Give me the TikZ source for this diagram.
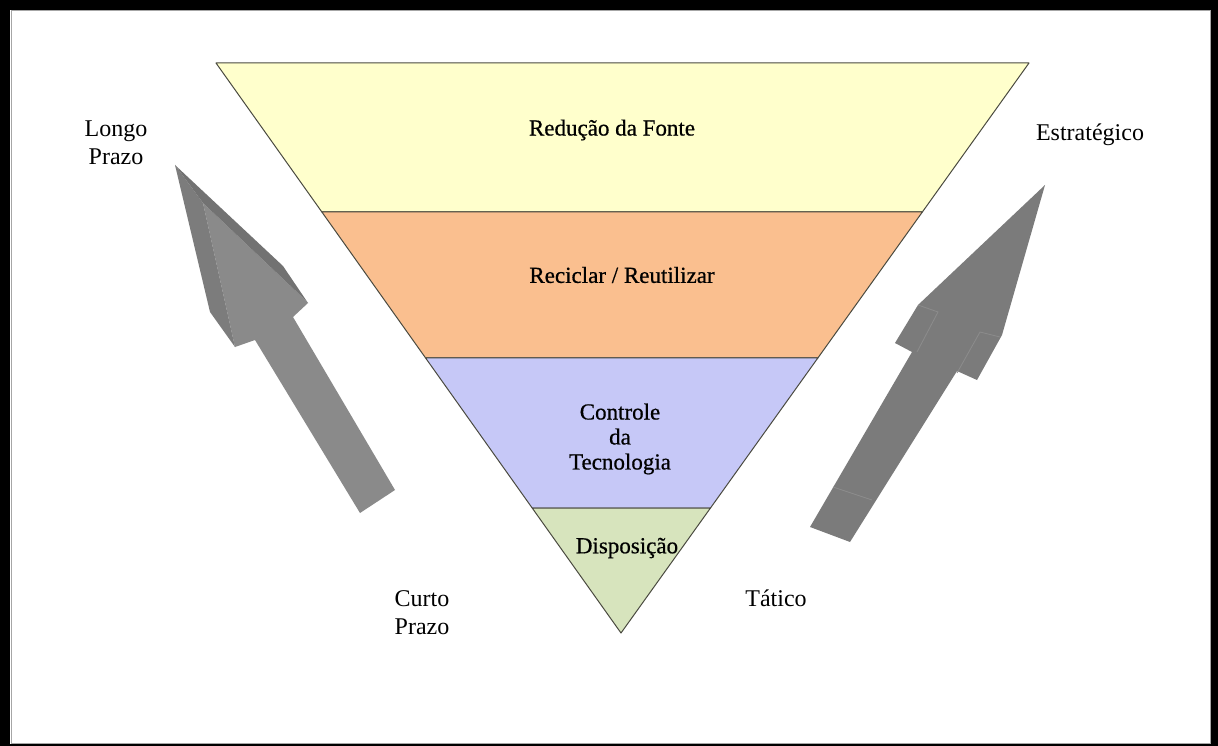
\documentclass[tikz,border=0pt]{standalone}
\usepackage{fontspec}
\setmainfont{Liberation Serif}
\newfontfamily\semibf[FakeBold=0.6]{Liberation Serif}
\usetikzlibrary{calc}
\definecolor{yel}{HTML}{FFFFCC}
\definecolor{ora}{HTML}{FABF8F}
\definecolor{blu}{HTML}{C6C8F7}
\definecolor{gre}{HTML}{D7E4BD}
\definecolor{edge}{HTML}{4A4A40}
\definecolor{afront}{HTML}{8A8A8A}
\definecolor{aside}{HTML}{7C7C7C}
\definecolor{atop}{HTML}{727272}
\definecolor{rbody}{HTML}{7B7B7B}
\definecolor{rline}{HTML}{8C8C8C}
\begin{document}
\begin{tikzpicture}[x=1pt,y=-1pt,
  band/.style={draw=edge,line width=1pt,line join=round},
  inlabel/.style={align=center,font=\semibf\fontsize{23}{25}\selectfont,text=black},
  outlabel/.style={align=center,font=\fontsize{24}{28}\selectfont,text=black},
  tabline/.style={draw=rline,line width=0.8pt}]
% frame
\fill[black] (0,0) rectangle (1218,746);
\fill[white] (10,10) rectangle (1211,744);
\draw[gray!70,line width=1pt] (11,11) rectangle (1210,743);
% triangle
\coordinate (A) at (216,63);
\coordinate (B) at (1029,63);
\coordinate (C) at (621,633);
\coordinate (L1) at ($(A)!0.2614!(C)$);
\coordinate (R1) at ($(B)!0.2614!(C)$);
\coordinate (L2) at ($(A)!0.5175!(C)$);
\coordinate (R2) at ($(B)!0.5175!(C)$);
\coordinate (L3) at ($(A)!0.7807!(C)$);
\coordinate (R3) at ($(B)!0.7807!(C)$);
\filldraw[band,fill=yel] (A) -- (B) -- (R1) -- (L1) -- cycle;
\filldraw[band,fill=ora] (L1) -- (R1) -- (R2) -- (L2) -- cycle;
\filldraw[band,fill=blu] (L2) -- (R2) -- (R3) -- (L3) -- cycle;
\filldraw[band,fill=gre] (L3) -- (R3) -- (C) -- cycle;
% labels in triangle
\node[inlabel] (t1) at (612,130) {Redução da Fonte};
\node[inlabel] (t2) at (622,275) {Reciclar / Reutilizar};
\node[inlabel] (t3) at (620,439) {Controle\\da\\Tecnologia};
\node[inlabel] (t4) at (627,548) {Disposição};
% outside labels
\node[outlabel] (lp) at (116,143) {Longo\\Prazo};
\node[outlabel] (es) at (1090,135) {Estratégico};
\node[outlabel] (cp) at (422,613) {Curto\\Prazo};
\node[outlabel] (ta) at (776,598) {Tático};
% left 3D arrow
\fill[afront] (203,203) -- (300,295) -- (308,303) -- (293,317) -- (395,490) -- (360,513) -- (255,340) -- (235,347) -- cycle;
\fill[aside] (175,165) -- (203,203) -- (235,347) -- (210,312) -- cycle;
\fill[atop] (175,165) -- (283,266) -- (308,303) -- (300,295) -- (203,203) -- cycle;
% right arrow
\fill[rbody] (1045,185) -- (1002,335) -- (977,380) -- (957,371) -- (850,542) -- (810,527) -- (912,352) -- (895,343) -- (918,305) -- cycle;
\draw[tabline] (918,305) -- (938,312) -- (917,352);
\draw[tabline] (1000,337) -- (980,332) -- (957,373);
\draw[tabline] (833,487) -- (872,500);
\end{tikzpicture}
\end{document}
